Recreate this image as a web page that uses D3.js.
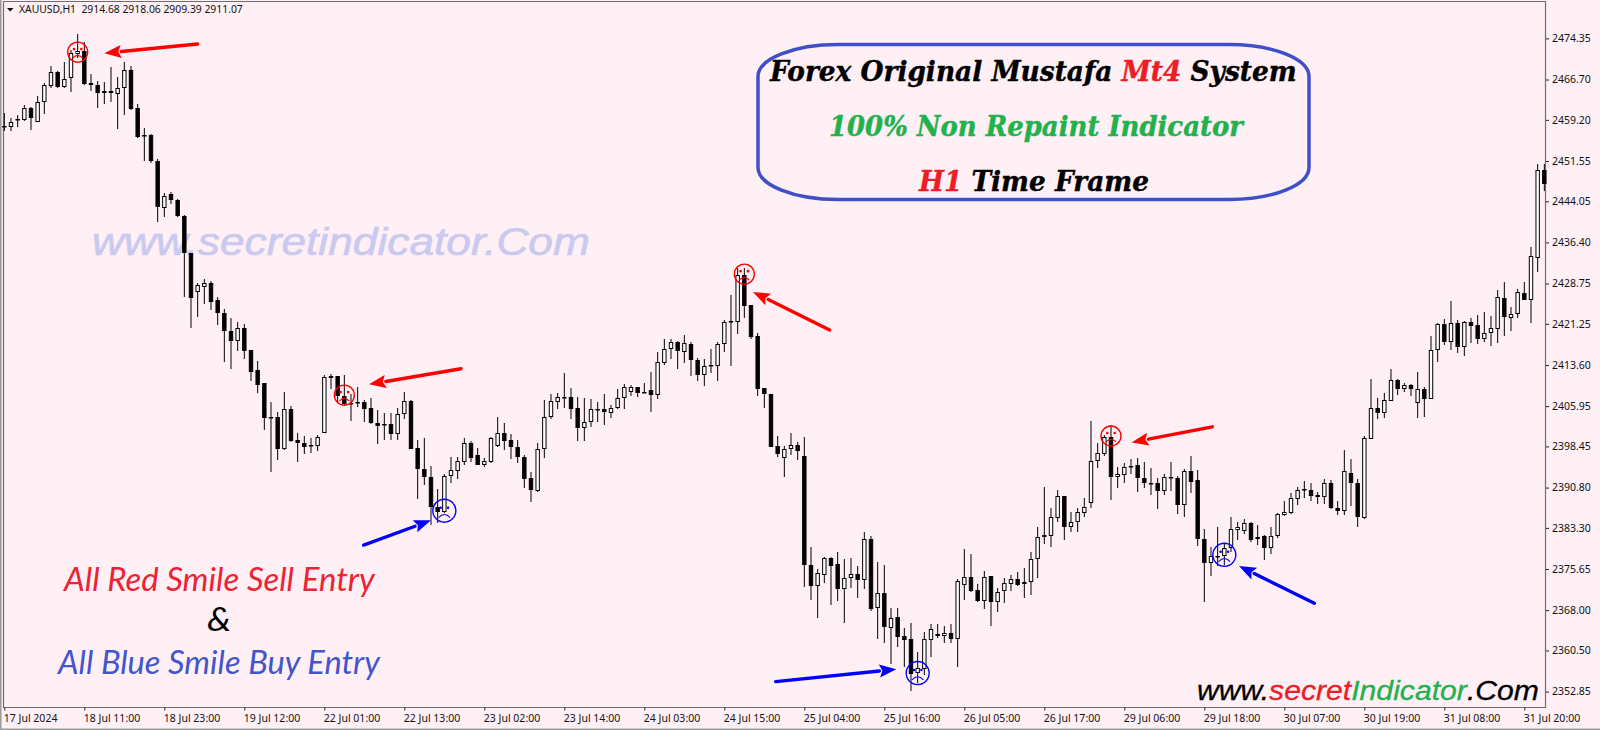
<!DOCTYPE html>
<html><head><meta charset="utf-8">
<style>html,body{margin:0;padding:0;background:#fff0f5;overflow:hidden}svg{display:block}</style>
<script src="https://cdn.jsdelivr.net/npm/d3@7"></script></head><body>
<script>
const symbolHeader = "XAUUSD,H1  2914.68 2918.06 2909.39 2911.07";
const priceTicks = [2474.35,2466.70,2459.20,2451.55,2444.05,2436.40,2428.75,2421.25,2413.60,2405.95,2398.45,2390.80,2383.30,2375.65,2368.00,2360.50,2352.85];
const timeLabels = ["17 Jul 2024","18 Jul 11:00","18 Jul 23:00","19 Jul 12:00","22 Jul 01:00","22 Jul 13:00","23 Jul 02:00","23 Jul 14:00","24 Jul 03:00","24 Jul 15:00","25 Jul 04:00","25 Jul 16:00","26 Jul 05:00","26 Jul 17:00","29 Jul 06:00","29 Jul 18:00","30 Jul 07:00","30 Jul 19:00","31 Jul 08:00","31 Jul 20:00"];
const opens = [2458.1,2457.9,2459.4,2459.2,2461.4,2458.8,2462.5,2465.5,2468.1,2465.3,
2467.0,2471.5,2472.0,2466.1,2465.7,2464.2,2464.6,2464.0,2465.1,2468.5,
2461.4,2456.4,2456.4,2451.6,2442.8,2445.4,2444.3,2441.3,2434.4,2427.2,
2428.1,2428.9,2425.7,2423.3,2419.9,2418.1,2420.5,2416.4,2412.7,2410.3,
2403.9,2403.9,2398.0,2405.4,2399.7,2399.1,2398.7,2398.5,2401.0,2411.2,
2411.6,2407.9,2406.5,2406.7,2406.7,2405.6,2402.8,2402.6,2402.6,2400.8,
2404.5,2406.9,2398.2,2394.3,2392.8,2387.2,2386.3,2393.0,2393.9,2395.5,
2399.1,2396.9,2395.0,2395.5,2398.5,2401.0,2399.7,2398.4,2396.5,2392.6,
2390.2,2398.0,2403.9,2406.7,2407.5,2407.7,2405.6,2401.9,2403.0,2405.2,
2405.4,2404.7,2405.6,2407.5,2408.6,2409.5,2408.6,2408.9,2408.0,2414.0,
2416.6,2417.9,2416.0,2417.5,2414.5,2411.7,2413.4,2413.4,2417.5,2421.6,
2421.6,2430.3,2424.8,2419.0,2409.3,2408.2,2398.5,2396.3,2398.0,2398.7,
2396.7,2376.4,2372.5,2374.5,2377.7,2376.6,2371.9,2374.0,2374.7,2373.6,
2381.2,2368.4,2371.2,2364.7,2366.7,2363.2,2362.6,2356.3,2357.1,2362.4,
2363.6,2363.2,2363.8,2362.6,2372.7,2374.2,2371.8,2369.7,2374.4,2369.5,
2371.6,2372.9,2373.8,2372.9,2373.2,2377.5,2381.6,2381.8,2385.2,2389.2,
2383.4,2384.4,2386.1,2387.9,2395.8,2397.1,2400.2,2392.8,2393.2,2394.6,
2395.0,2392.6,2391.7,2391.7,2390.2,2392.6,2392.6,2387.6,2393.9,2392.2,
2381.3,2376.8,2378.1,2378.1,2379.6,2382.9,2382.8,2384.2,2381.3,2381.8,
2379.6,2381.8,2385.7,2386.1,2388.7,2390.4,2390.4,2389.4,2389.1,2391.7,
2387.0,2386.5,2393.5,2391.7,2385.2,2399.8,2405.6,2404.7,2406.9,2410.8,
2409.1,2409.9,2406.5,2409.1,2407.3,2416.4,2421.2,2417.9,2421.4,2417.0,
2421.6,2421.1,2418.5,2419.6,2420.3,2426.1,2422.3,2423.1,2427.0,2425.7,2433.5,2449.9];
const highs = [2460.5,2459.6,2460.1,2462.0,2461.6,2463.6,2466.1,2469.2,2468.3,2470.0,
2472.2,2475.2,2473.7,2467.7,2466.4,2466.2,2469.0,2467.2,2470.0,2469.2,
2462.2,2457.7,2456.6,2451.9,2445.6,2445.8,2444.5,2441.5,2434.4,2428.9,
2429.6,2429.2,2426.3,2424.0,2422.3,2421.6,2421.2,2416.4,2414.4,2410.3,
2406.7,2404.9,2408.6,2406.0,2401.0,2400.4,2400.0,2400.6,2411.7,2411.9,
2411.6,2411.7,2408.2,2409.5,2407.1,2407.5,2405.2,2404.7,2404.7,2405.6,
2408.6,2407.1,2399.7,2400.0,2394.8,2390.5,2393.3,2396.5,2396.5,2400.0,
2399.5,2398.2,2396.3,2400.2,2403.9,2402.8,2400.8,2399.7,2396.9,2393.7,
2399.1,2407.1,2408.2,2408.4,2412.1,2409.3,2407.7,2407.5,2407.3,2406.7,
2408.2,2406.2,2409.1,2410.1,2409.9,2409.5,2410.3,2412.3,2416.0,2418.5,
2418.5,2418.1,2419.2,2417.9,2414.9,2414.7,2416.6,2417.9,2421.9,2426.6,
2431.7,2431.7,2424.8,2419.6,2409.3,2408.2,2400.4,2398.5,2401.0,2399.3,
2400.2,2379.8,2375.7,2377.9,2377.9,2378.8,2377.5,2377.7,2376.2,2382.6,
2381.8,2377.0,2376.4,2368.4,2368.4,2364.7,2365.6,2360.2,2363.9,2365.4,
2365.5,2365.1,2365.5,2373.8,2379.4,2378.5,2372.9,2375.3,2374.4,2372.1,
2374.0,2374.5,2375.1,2375.9,2378.8,2383.4,2390.9,2387.0,2390.4,2389.2,
2386.3,2387.0,2388.9,2403.2,2399.1,2400.6,2402.4,2394.6,2395.4,2396.1,
2396.3,2395.5,2394.5,2392.6,2393.3,2395.5,2393.0,2394.3,2396.7,2394.1,
2383.1,2379.8,2383.5,2380.5,2385.3,2384.4,2385.0,2384.4,2383.9,2382.0,
2383.5,2386.1,2388.3,2389.8,2390.9,2392.0,2391.7,2390.0,2392.4,2392.2,
2388.3,2397.8,2396.1,2392.4,2400.4,2411.0,2407.5,2408.4,2412.9,2411.0,
2410.3,2410.1,2412.3,2409.5,2419.0,2421.4,2422.2,2425.5,2421.9,2421.8,
2422.3,2422.9,2423.5,2422.7,2427.6,2429.0,2424.4,2427.8,2429.0,2435.6,2451.0,2451.0];
const lows = [2457.1,2457.1,2457.9,2459.0,2457.3,2458.8,2460.3,2465.1,2465.1,2465.1,
2464.4,2470.7,2465.7,2464.6,2461.4,2462.2,2462.5,2457.5,2460.1,2461.0,
2455.8,2451.6,2451.2,2440.2,2441.1,2443.6,2441.1,2426.3,2420.5,2422.5,
2424.9,2423.8,2421.1,2414.2,2412.9,2416.2,2414.7,2410.6,2408.4,2401.5,
2393.7,2395.9,2397.8,2399.3,2395.5,2397.1,2397.2,2397.6,2401.0,2409.1,
2406.5,2406.0,2403.2,2405.8,2403.0,2402.6,2398.9,2399.7,2399.7,2399.7,
2403.6,2398.0,2388.7,2391.3,2383.9,2384.2,2386.1,2391.7,2392.4,2395.0,
2395.5,2395.0,2394.6,2395.4,2398.4,2397.8,2396.1,2395.4,2390.7,2388.1,
2390.0,2396.3,2403.6,2405.4,2405.6,2403.6,2399.5,2399.5,2402.1,2403.0,
2402.4,2403.8,2405.4,2405.4,2407.9,2407.7,2408.4,2404.9,2407.3,2413.6,
2414.7,2412.9,2414.0,2411.6,2410.6,2409.7,2412.1,2410.6,2416.0,2413.4,
2419.4,2422.3,2418.5,2407.9,2405.6,2398.4,2396.5,2392.8,2396.9,2395.9,
2372.3,2369.9,2366.6,2373.1,2369.0,2369.7,2365.6,2372.1,2370.3,2371.9,
2367.9,2362.6,2361.9,2358.0,2361.2,2357.4,2353.0,2354.5,2355.9,2359.3,
2362.8,2361.9,2361.9,2357.4,2369.9,2371.4,2369.5,2368.2,2365.1,2367.7,
2369.3,2371.6,2372.5,2370.3,2370.8,2374.0,2380.3,2379.8,2384.4,2381.1,
2382.6,2382.6,2385.3,2387.0,2394.5,2396.7,2388.5,2390.7,2391.7,2393.3,
2390.0,2390.7,2389.4,2386.8,2389.4,2390.2,2385.9,2385.3,2389.8,2380.0,
2369.5,2374.4,2376.2,2376.4,2378.8,2381.1,2382.2,2380.7,2380.1,2377.3,
2378.5,2381.4,2385.5,2385.9,2387.6,2388.9,2388.3,2387.8,2387.8,2386.8,
2385.7,2385.7,2387.4,2383.4,2385.0,2399.8,2403.6,2403.8,2406.9,2408.0,
2408.6,2407.9,2403.8,2403.9,2407.3,2414.2,2417.3,2416.4,2415.8,2415.3,
2417.7,2417.5,2417.9,2417.1,2417.7,2419.0,2419.9,2422.3,2425.7,2421.4,2430.9,2446.0];
const closes = [2457.9,2458.8,2459.2,2461.4,2459.6,2462.5,2465.7,2468.1,2465.3,2466.8,
2471.6,2472.0,2465.9,2465.7,2464.2,2464.6,2464.2,2465.1,2468.5,2461.2,
2456.0,2456.2,2451.6,2443.0,2445.0,2444.3,2441.3,2434.4,2426.1,2428.5,
2428.9,2425.3,2423.3,2419.9,2418.1,2420.5,2416.2,2412.3,2409.9,2403.8,
2403.8,2398.0,2405.4,2399.5,2399.1,2398.4,2398.5,2400.2,2411.4,2411.6,
2407.9,2406.4,2406.4,2406.5,2405.4,2402.8,2402.3,2402.4,2400.8,2404.5,
2406.9,2398.0,2394.3,2392.8,2387.2,2386.3,2393.0,2394.1,2395.8,2399.1,
2396.3,2395.0,2395.8,2400.0,2401.0,2399.5,2398.4,2396.5,2392.4,2390.4,
2398.0,2403.9,2406.9,2407.7,2407.7,2405.4,2401.9,2403.0,2405.4,2405.4,
2404.9,2405.6,2407.5,2409.5,2409.5,2408.4,2408.4,2408.0,2414.2,2416.6,
2417.9,2416.2,2417.7,2414.5,2411.7,2413.4,2413.6,2417.5,2421.6,2421.8,
2430.3,2424.6,2418.8,2409.1,2408.2,2398.4,2397.1,2398.0,2398.7,2397.6,
2376.4,2372.5,2374.9,2377.7,2376.2,2371.9,2374.0,2374.7,2373.6,2381.2,
2368.2,2371.2,2364.9,2366.6,2363.0,2362.5,2356.1,2357.2,2362.6,2364.5,
2363.2,2363.8,2362.6,2373.4,2374.2,2371.6,2369.7,2374.2,2369.5,2371.4,
2373.1,2373.8,2372.7,2373.2,2377.5,2381.6,2382.0,2385.3,2389.2,2383.5,
2384.4,2386.3,2387.2,2395.8,2397.2,2400.2,2392.8,2393.3,2394.6,2394.8,
2392.6,2391.7,2391.5,2390.2,2392.8,2392.8,2387.6,2393.9,2391.8,2381.3,
2376.8,2378.1,2377.9,2379.6,2383.1,2383.5,2384.2,2381.1,2381.6,2379.6,
2381.8,2385.9,2386.3,2388.9,2390.4,2390.5,2389.2,2389.1,2391.7,2387.0,
2386.5,2393.9,2391.7,2385.3,2400.0,2405.6,2404.7,2407.1,2410.8,2409.1,
2409.9,2409.1,2409.1,2407.3,2416.4,2421.2,2417.9,2421.4,2417.0,2421.6,
2420.9,2418.5,2419.6,2420.5,2426.3,2422.5,2423.1,2427.2,2425.7,2433.9,2449.9,2447.3];
// smile markers: bar index, price, kind
const markerBars   = [11,51,66,111,137,166,183];
const markerPrices = [2471.8,2408.0,2386.5,2430.5,2356.3,2400.4,2378.3];
const markerKinds  = ["sell","sell","buy","sell","buy","sell","buy"];
// arrows: tail and tip in bar index / price
const arrowTailBars   = [29.0,68.5,53.9,123.8,115.7,181.2,196.5];
const arrowTailPrices = [2473.3,2412.9,2380.1,2420.1,2354.7,2402.1,2369.3];
const arrowTipBars    = [15.0,54.7,64.0,112.3,133.8,169.1,185.2];
const arrowTipPrices  = [2471.6,2410.0,2384.7,2427.2,2357.0,2399.2,2376.2];
const arrowKinds      = ["sell","sell","buy","sell","buy","sell","buy"];

const W=1600,H=730;
const bars = opens.map((o,i)=>({i,o,h:highs[i],l:lows[i],c:closes[i]}));
const x = d3.scaleLinear().domain([0,231]).range([4.33,1544.33]);
const y = d3.scaleLinear().domain([2352.85,2474.35]).range([691.6,38.4]);
const kindColor = {sell:"#ff0000",buy:"#0000ff"};

const svg = d3.select("body").append("svg").attr("width",W).attr("height",H);
svg.append("rect").attr("width",W).attr("height",H).attr("fill","#fff0f5");

// window + plot frame
const frame = svg.append("g").attr("fill","none");
frame.append("path").attr("d","M0.5,0V729.5H1600").attr("stroke","#9a9a9a").attr("stroke-width",2);
frame.append("path").attr("d","M3.5,1.5V707.5H1545.5V1.5Z").attr("stroke","#6e6e6e").attr("stroke-width",1.2);

// watermark
const fit=(sel,x0,x1,yb)=>{const n=sel.node();const w=n.getComputedTextLength();
  sel.attr("transform",`translate(${x0},${yb}) scale(${(x1-x0)/w},1)`);return sel;};
const lineText=(parts,attrs,x0,x1,yb)=>{const t=svg.append("text").attr("text-anchor","start");
  Object.entries(attrs).forEach(([k,v])=>t.attr(k,v));
  parts.forEach(([s,c])=>t.append("tspan").text(s).attr("fill",c).attr("stroke",attrs.stroke?c:null));
  fit(t,x0,x1,yb);return t;};
lineText([["www.secretindicator.Com","#cacaf0"]],{"font-family":"Liberation Sans","font-style":"italic","font-size":39,"stroke":"x","stroke-width":0.7},92,590,255);

// axes
const yAxis = d3.axisRight(y).tickValues(priceTicks).tickFormat(d3.format(".2f")).tickSize(3).tickPadding(3);
const gy = svg.append("g").attr("transform","translate(1546,0)").call(yAxis);
const tickIdx = timeLabels.map((_,k)=>k*12);
const xAxis = d3.axisBottom(x).tickValues(tickIdx).tickFormat((d,k)=>timeLabels[k]).tickSize(3).tickPadding(2);
const gx = svg.append("g").attr("transform","translate(0,707.5)").call(xAxis);
[gx,gy].forEach(g=>{g.select(".domain").remove();
  g.selectAll("line").attr("stroke","#222");
  g.selectAll("text").attr("font-family","Noto Sans").attr("font-size",10.5).attr("fill","#111");});
gx.selectAll("text").attr("text-anchor","start").attr("x",-1).attr("y",7).attr("dy","0.71em");

// candles
const g = svg.append("g");
const bodyW=3.4;
const cs = g.selectAll("g.c").data(bars).join("g").attr("class","c");
cs.append("line").attr("x1",d=>x(d.i)).attr("x2",d=>x(d.i))
  .attr("y1",d=>Math.round(y(d.h))).attr("y2",d=>Math.round(y(d.l)))
  .attr("stroke","#000").attr("stroke-width",1);
cs.append("rect").attr("x",d=>x(d.i)-bodyW/2)
  .attr("y",d=>Math.round(y(Math.max(d.o,d.c)))+0.5)
  .attr("width",bodyW)
  .attr("height",d=>Math.max(0.5,Math.round(y(Math.min(d.o,d.c)))-Math.round(y(Math.max(d.o,d.c)))-1))
  .attr("fill",d=>d.c>=d.o?"#fff":"#000").attr("stroke","#000").attr("stroke-width",1);

// header
svg.append("path").attr("d",d3.line()([[7,8],[13.5,8],[10.2,11.5]])+"Z").attr("fill","#000");
svg.append("text").attr("xml:space","preserve").style("white-space","pre").text(symbolHeader)
  .attr("font-family","Noto Sans").attr("font-size",10.5).attr("fill","#111").attr("id","hdr");
fit(d3.select("#hdr"),19,243,13);

// arrows
const arrows = arrowKinds.map((k,i)=>({k,x1:x(arrowTailBars[i]),y1:y(arrowTailPrices[i]),x2:x(arrowTipBars[i]),y2:y(arrowTipPrices[i])}));
const ag = svg.append("g");
arrows.forEach(a=>{
  const dx=a.x2-a.x1,dy=a.y2-a.y1,L=Math.hypot(dx,dy),ux=dx/L,uy=dy/L,hl=17,hw=6.5;
  const bx=a.x2-ux*hl,by=a.y2-uy*hl;
  ag.append("line").attr("x1",a.x1).attr("y1",a.y1).attr("x2",bx).attr("y2",by)
    .attr("stroke",kindColor[a.k]).attr("stroke-width",3.4).attr("stroke-linecap","round");
  ag.append("path").attr("fill",kindColor[a.k])
    .attr("d",d3.line()([[a.x2,a.y2],[bx-uy*hw,by+ux*hw],[bx+ux*3,by+uy*3],[bx+uy*hw,by-ux*hw]])+"Z");
});

// smile markers
const mg = svg.append("g");
markerBars.forEach((b,i)=>{
  const k=markerKinds[i],c=kindColor[k],r=k==="buy"?11.5:10;
  const m=mg.append("g").attr("transform",`translate(${x(b)},${y(markerPrices[i])})`).attr("fill","none").attr("stroke",c);
  m.append("circle").attr("r",r).attr("stroke-width",1.4);
  m.append("circle").attr("cx",-3.7).attr("cy",-3).attr("r",1.3).attr("fill",c).attr("stroke","none");
  m.append("circle").attr("cx",3.7).attr("cy",-3).attr("r",1.3).attr("fill",c).attr("stroke","none");
  m.append("path").attr("d",`M${-r*0.5},${r*0.6}Q0,${r*0.05} ${r*0.5},${r*0.6}`).attr("stroke-width",1.1);
});

// title box
svg.append("rect").attr("x",758).attr("y",44.5).attr("width",551).attr("height",155)
  .attr("rx",80).attr("ry",32).attr("fill","none").attr("stroke","#3f4fc8").attr("stroke-width",3.5);
const titleAttrs={"font-family":"DejaVu Serif","font-weight":"bold","font-style":"italic","font-size":27,"stroke":"x","stroke-width":0.4};
lineText([["Forex Original Mustafa ","#000"],["Mt4","#ee1c25"],[" System","#000"]],titleAttrs,770,1297,81);
lineText([["100% Non Repaint Indicator","#22b14c"]],titleAttrs,829,1243,136);
lineText([["H1","#ee1c25"],[" Time Frame","#000"]],titleAttrs,919,1149,191);

// notes
const noteAttrs={"font-family":"Lato","font-style":"italic","font-size":32};
lineText([["All Red Smile Sell Entry","#ee2233"]],noteAttrs,64,375,591);
lineText([["&","#000"]],noteAttrs,207,231,631);
lineText([["All Blue Smile Buy Entry","#4355cc"]],noteAttrs,58,380,674);

// footer site
lineText([["www.","#000"],["secret","#ee1c25"],["Indicator","#22b14c"],[".Com","#000"]],
 {"font-family":"Liberation Sans","font-style":"italic","font-size":28,"stroke":"x","stroke-width":0.3},1197,1538,700);
</script></body></html>
